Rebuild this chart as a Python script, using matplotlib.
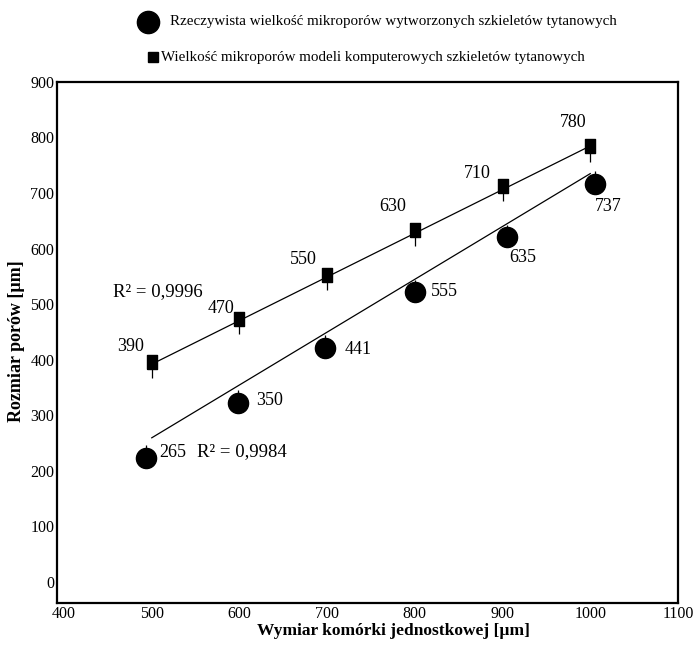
import numpy as np
import matplotlib
matplotlib.use("Agg")
import matplotlib.pyplot as plt
from matplotlib.lines import Line2D

plt.rcParams['font.family'] = ['Liberation Serif', 'DejaVu Serif']

# rozmiar komorki (os x) i wartosci z etykiet
cell_size = [500, 600, 700, 800, 900, 1000]
real_labels = [265, 350, 441, 555, 635, 737]
model_labels = [390, 470, 550, 630, 710, 780]

# polozenie znacznikow
real_x = [493, 598, 698, 800, 905, 1005]
real_y = [223, 322, 421, 521, 620, 717]
model_x = [500, 600, 700, 800, 900, 1000]
model_y = [395, 474, 553, 633, 713, 784]
real_err = 23
model_err = 28

# przesuniecia etykiet (piksele)
real_off = [(27, 6), (32, 3), (33, -1), (30, 1), (16, -20), (14, -23)]
model_off = [(-21, 16), (-18, 10), (-24, 15), (-22, 24), (-25, 12), (-17, 24)]

fig = plt.figure(figsize=(6.93, 6.45), dpi=100)
ax = fig.add_axes([0.0823, 0.0651, 0.8960, 0.8079])

rect = [(-0.36, -0.5), (0.36, -0.5), (0.36, 0.5), (-0.36, 0.5), (-0.36, -0.5)]

# linie trendu
xs = np.array([500, 1000])
p1 = np.polyfit(cell_size, model_labels, 1)
p2 = np.polyfit(cell_size, real_labels, 1)
ax.plot(xs, np.polyval(p1, xs), color='black', lw=0.9)
ax.plot(xs, np.polyval(p2, xs), color='black', lw=0.9)

n = len(cell_size)
ax.errorbar(model_x, model_y, yerr=[[model_err] * n, [0] * n], fmt='none',
            ecolor='black', elinewidth=0.9, capsize=0)
ax.errorbar(real_x, real_y, yerr=[[0] * n, [real_err] * n], fmt='none',
            ecolor='black', elinewidth=0.9, capsize=0)
ax.plot(model_x, model_y, linestyle='none', marker=rect, markersize=10.5, color='black')
ax.plot(real_x, real_y, linestyle='none', marker='o', markersize=14.5, color='black')

for x, y, lab, off in zip(model_x, model_y, model_labels, model_off):
    ax.annotate(str(lab), (x, y), xytext=off, textcoords='offset pixels',
                ha='center', va='center', fontsize=13)
for x, y, lab, off in zip(real_x, real_y, real_labels, real_off):
    ax.annotate(str(lab), (x, y), xytext=off, textcoords='offset pixels',
                ha='center', va='center', fontsize=13)

ax.text(507, 522, 'R² = 0,9996', ha='center', va='center', fontsize=13.5)
ax.text(603, 234, 'R² = 0,9984', ha='center', va='center', fontsize=13.5)

ax.set_xlim(392, 1100)
ax.set_ylim(-38, 900)
ax.set_xticks(range(400, 1101, 100))
ax.set_yticks(range(0, 901, 100))
ax.tick_params(length=0, labelsize=11.5, pad=2)
for s in ax.spines.values():
    s.set_linewidth(1.6)

ax.set_xlabel('Wymiar komórki jednostkowej [µm]', fontsize=12.5, fontweight='bold')
ax.xaxis.set_label_coords(0.541, -0.038)
ax.set_ylabel('Rozmiar porów [µm]', fontsize=13, fontweight='bold')
ax.yaxis.set_label_coords(-0.051, 0.503)

# legenda
fig.add_artist(Line2D([0.2136], [0.9659], marker='o', markersize=16, color='black',
                      transform=fig.transFigure))
fig.text(0.2453, 0.9659, 'Rzeczywista wielkość mikroporów wytworzonych szkieletów tytanowych',
         ha='left', va='center', fontsize=10.8)
fig.add_artist(Line2D([0.2208], [0.9116], marker='s', markersize=7.5, color='black',
                      transform=fig.transFigure))
fig.text(0.2323, 0.9116, 'Wielkość mikroporów modeli komputerowych szkieletów tytanowych',
         ha='left', va='center', fontsize=10.8)

fig.savefig('out.png', dpi=100)
